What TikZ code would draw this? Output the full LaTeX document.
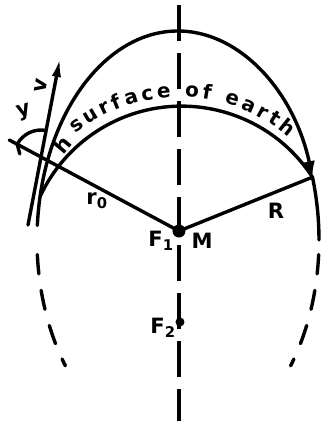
\documentclass[tikz,border=0pt]{standalone}
\usepackage{fontspec}
\usepackage{tikz}
\usetikzlibrary{arrows.meta,calc,decorations.text}
\newfontfamily\letterfont{DejaVu Sans}
\newcommand{\lbl}{\letterfont\bfseries\fontsize{18}{20}\selectfont}
\newcommand{\arclbl}{\letterfont\bfseries\fontsize{17}{19}\selectfont}

\begin{document}
\begin{tikzpicture}[scale=0.03,
  ink/.style={line width=2.9pt,line cap=round},
  axisline/.style={line width=2.6pt,dash pattern=on 1.08cm off 0.36cm},
  orbitdashed/.style={line width=2.9pt,line cap=round,dash pattern=on 0.58cm off 0.5cm},
  lab/.style={font=\lbl,inner sep=0pt}]
  \useasboundingbox (0,0) rectangle (334,421);
  \coordinate (M) at (179,190);
  \coordinate (F2) at (180,99);
  \coordinate (C) at (178,181);
  \coordinate (O) at (180,158);
  \coordinate (S) at ($(C)+(17.5:141 and 209)$);
  \coordinate (L) at (41,264);
  \coordinate (B) at (28,196);
  \coordinate (T) at (60,363);
  \coordinate (E) at ($(M)!1.23!(L)$);
  \coordinate (axtop) at (179,416);
  \coordinate (axbot) at (179,0);
  % axis through both foci
  \draw[axisline] (axtop) -- (axbot);
  % orbit
  \draw[ink,-{Latex[length=0.48cm,width=0.36cm]}] ($(C)+(176:141 and 209)$)
    arc[start angle=176,end angle=17.5,x radius=141,y radius=209];
  \draw[ink] (S) arc[start angle=17.5,end angle=0,x radius=141,y radius=209];
  \draw[orbitdashed] ($(C)+(-4:141 and 209)$)
    arc[start angle=-4,end angle=-37,x radius=141,y radius=209];
  \draw[orbitdashed] ($(C)+(184:141 and 209)$)
    arc[start angle=184,end angle=217,x radius=141,y radius=209];
  % earth
  \draw[ink] (S) arc[start angle=33,end angle=155,radius=156];
  \path[decorate,decoration={text along path,text align={fit to path},
    text={|\arclbl|surface of earth}}]
    ($(O)+(129:166)$) arc[start angle=129,end angle=49,radius=166];
  % radii
  \draw[ink] (M) -- (E);
  \draw[ink] (M) -- (S);
  % velocity and angle
  \draw[ink,-{Latex[length=0.57cm,width=0.28cm]}] (B) -- (T);
  \draw[ink] ($(L)+(151.8:27)$) coordinate (g1)
    arc[start angle=151.8,end angle=79.2,radius=27];
  \draw[ink] (g1) -- ++(285:10);
  \fill (M) circle (6.5);
  \fill (F2) circle (4.5);
  \node[lab] (lblF1) at (161,180) {F\textsubscript{1}};
  \node[lab] (lblM) at (202,180) {M};
  \node[lab] (lblF2) at (163,93) {F\textsubscript{2}};
  \node[lab] (lblR) at (276,210) {R};
  \node[lab] (lblr) at (97,220) {r\textsubscript{0}};
  \node[lab,rotate=80] (lblv) at (41,335) {v};
  \node[lab,rotate=15] (lbly) at (24,309) {y};
  \node[lab,rotate=50] (lblh) at (62,276) {h};
\end{tikzpicture}
\end{document}
